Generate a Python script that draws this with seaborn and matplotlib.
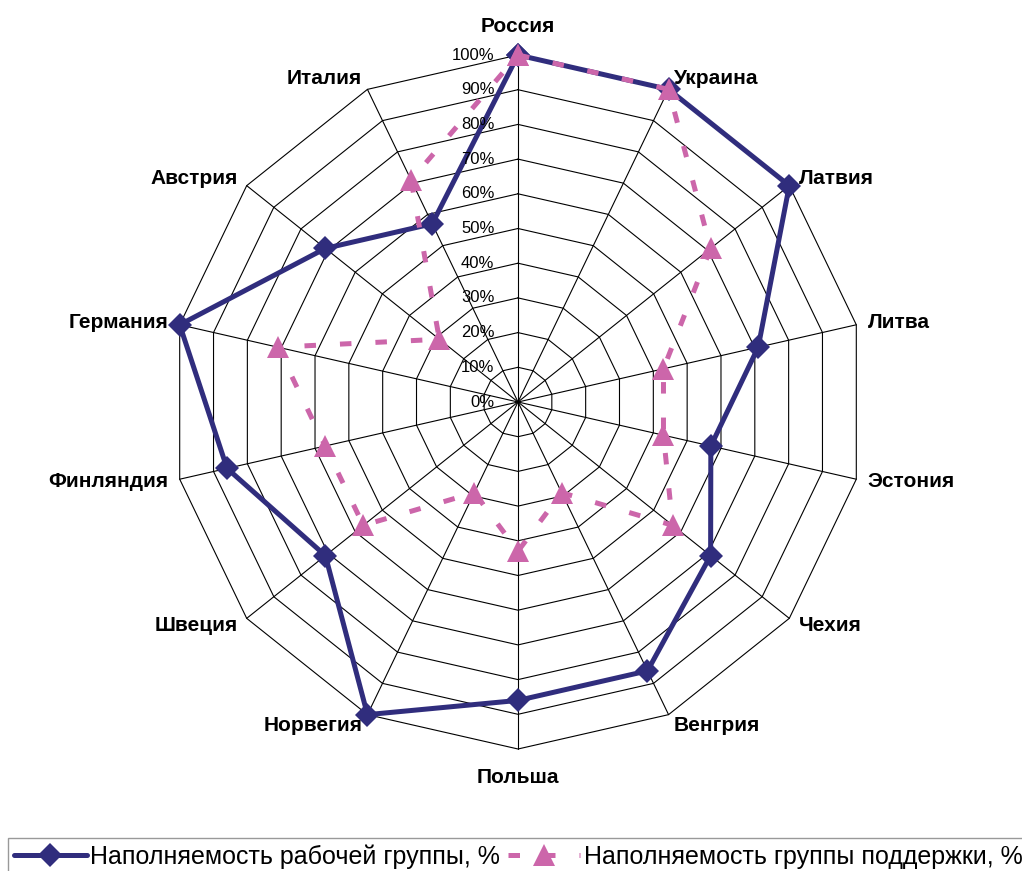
import numpy as np
import pandas as pd
import matplotlib
matplotlib.use("Agg")
import matplotlib.pyplot as plt
import seaborn as sns

# страны по часовой стрелке, начиная сверху
countries = ["Россия", "Украина", "Латвия", "Литва", "Эстония", "Чехия",
             "Венгрия", "Польша", "Норвегия", "Швеция", "Финляндия",
             "Германия", "Австрия", "Италия"]
# наполняемость, %
work_group = [100, 100, 100, 71, 57, 71, 86, 86, 100, 71, 86, 100, 71, 57]
support_group = [100, 100, 71, 43, 43, 57, 29, 43, 29, 57, 57, 71, 29, 71]
ring_levels = [0, 10, 20, 30, 40, 50, 60, 70, 80, 90, 100]
ring_labels = ["0%", "10%", "20%", "30%", "40%", "50%", "60%", "70%", "80%", "90%", "100%"]
series_names = ["Наполняемость рабочей группы, %", "Наполняемость группы поддержки, %"]

sns.set_style("white")
plt.rcParams["font.family"] = ["Liberation Sans", "DejaVu Sans"]
plt.rcParams["text.color"] = "black"

n = len(countries)
theta = np.arange(n) * 2 * np.pi / n
theta_closed = np.append(theta, 2 * np.pi)

fig = plt.figure(figsize=(10.22, 8.71), dpi=100)
ax = fig.add_axes([171 / 1022, 122 / 871, 694 / 1022, 694 / 871], projection="polar")
ax.set_theta_zero_location("N")
ax.set_theta_direction(-1)
ax.set_ylim(0, 100)
ax.grid(False)
ax.set_xticks([])
ax.set_yticks([])
ax.spines["polar"].set_visible(False)
ax.patch.set_alpha(0)

# сетка-многоугольник
for lvl in ring_levels[1:]:
    ax.plot(theta_closed, [lvl] * (n + 1), color="black", lw=0.8, zorder=1, clip_on=False)
for t in theta:
    ax.plot([t, t], [0, 100], color="black", lw=0.8, zorder=1, clip_on=False)

df = pd.DataFrame({
    "theta": np.concatenate([theta_closed, theta_closed]),
    "value": work_group + work_group[:1] + support_group + support_group[:1],
    "series": [series_names[0]] * (n + 1) + [series_names[1]] * (n + 1),
})

sns.lineplot(data=df[df.series == series_names[0]], x="theta", y="value",
             sort=False, estimator=None, ax=ax, color="#302D7D", lw=3.6,
             marker="D", markersize=12.5, markeredgewidth=0, zorder=3,
             clip_on=False, legend=False)
sns.lineplot(data=df[df.series == series_names[1]], x="theta", y="value",
             sort=False, estimator=None, ax=ax, color="#CC66AA", lw=3.6,
             linestyle=(0, (2.3, 4.8)), marker="^", markersize=16,
             markeredgewidth=0, zorder=4, clip_on=False, legend=False)
ax.set_xlabel("")
ax.set_ylabel("")

# подписи шкалы
for lvl, lab in zip(ring_levels, ring_labels):
    ax.annotate(lab, xy=(0, lvl), xytext=(-17, 0), textcoords="offset points",
                ha="right", va="center", fontsize=12, color="black")

# подписи стран
for t, name in zip(theta, countries):
    s, c = np.sin(t), np.cos(t)
    if abs(s) < 0.01:
        ha = "center"
        va = "bottom" if c > 0 else "top"
        off = (0, 14 * np.sign(c))
    else:
        ha = "left" if s > 0 else "right"
        va = "center"
        off = (8.5 * s, 8.5 * c)
    ax.annotate(name, xy=(t, 100), xytext=off, textcoords="offset points",
                ha=ha, va=va, fontsize=15, fontweight="bold", color="black")

handles = ax.get_lines()[-2:]
leg = fig.legend(handles, series_names, loc="upper left",
                 bbox_to_anchor=(8 / 1022, 1 - 838 / 871), ncol=2,
                 fontsize=18, frameon=True, fancybox=False, edgecolor="#808080",
                 handlelength=2.9, handletextpad=0.15, columnspacing=0.3,
                 borderaxespad=0, borderpad=0.25)
leg.get_frame().set_linewidth(1.0)
for txt in leg.get_texts():
    txt.set_color("black")

fig.savefig("out.png", dpi=100)
